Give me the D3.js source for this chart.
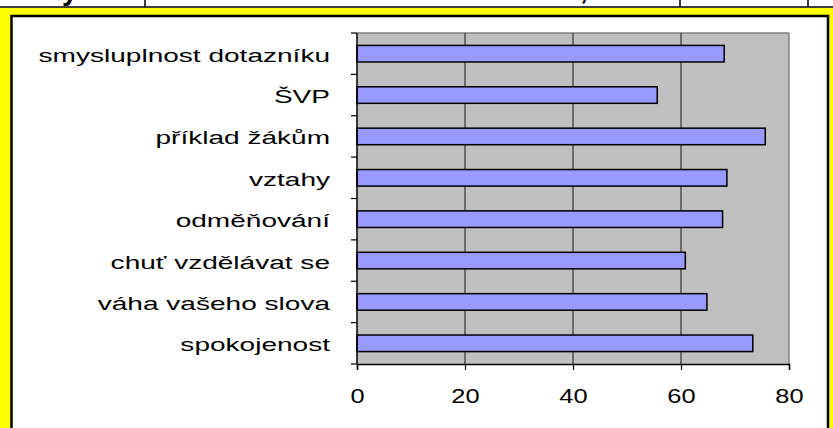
<!DOCTYPE html>
<html>
<head>
<meta charset="utf-8">
<script src="https://cdn.jsdelivr.net/npm/d3@7/dist/d3.min.js"></script>
<style>
  html, body { margin: 0; padding: 0; background: #fff; }
  svg { display: block; }
  text { font-family: "Liberation Sans", Arial, sans-serif; fill: #000; }
</style>
</head>
<body>
<script>

var w = 833, h = 428;

// chart data
var categories = ["smysluplnost dotazníku", "ŠVP", "příklad žákům", "vztahy",
                  "odměňování", "chuť vzdělávat se", "váha vašeho slova", "spokojenost"];
var values = [68.0, 55.6, 75.6, 68.5, 67.7, 60.8, 64.8, 73.3];
var xTicks = [0, 20, 40, 60, 80];

var data = categories.map(function(c, i){ return {cat: c, val: values[i]}; });

var svg = d3.select("body").append("svg").attr("width", w).attr("height", h);

// bits of the table above the chart (cut off by the picture edge)
svg.append("text").text("y")
  .attr("x", 62).attr("y", -0.5)
  .attr("font-size", "28px").attr("font-weight", "bold");
svg.append("text").text(",")
  .attr("x", 580).attr("y", -1)
  .attr("font-size", "28px").attr("font-weight", "bold");
svg.append("line").attr("x1", 0).attr("x2", w).attr("y1", 7).attr("y2", 7)
  .attr("stroke", "#000").attr("stroke-width", 1.5);
[145, 680, 808].forEach(function(x){
  svg.append("line").attr("x1", x).attr("x2", x).attr("y1", 0).attr("y2", 7)
    .attr("stroke", "#000").attr("stroke-width", 1.5);
});

// yellow frame + white chart area
svg.append("rect").attr("x", 0).attr("y", 8).attr("width", w).attr("height", h)
  .attr("fill", "#ffff00");
svg.append("rect").attr("x", 11.5).attr("y", 16).attr("width", 816.5).attr("height", h)
  .attr("fill", "#fff").attr("stroke", "#000").attr("stroke-width", 2.5);

// scales
var x = d3.scaleLinear().domain([0, 80]).range([357, 789]);
var y = d3.scaleBand().domain(categories).range([33, 364])
  .paddingInner(0.6).paddingOuter(0.3);
var step = y.step();

// plot area
svg.append("rect")
  .attr("x", x(0)).attr("y", 33)
  .attr("width", x(80) - x(0)).attr("height", 364 - 33)
  .attr("fill", "#c0c0c0");
svg.append("line").attr("x1", x(0)).attr("x2", x(80)).attr("y1", 33).attr("y2", 33)
  .attr("stroke", "#808080").attr("stroke-width", 1.5);
svg.append("line").attr("x1", x(80)).attr("x2", x(80)).attr("y1", 33).attr("y2", 364)
  .attr("stroke", "#808080").attr("stroke-width", 1.5);

// gridlines
svg.selectAll(".grid")
  .data(xTicks.filter(function(d){ return d > 0 && d < 80; }))
  .enter().append("line")
  .attr("class", "grid")
  .attr("x1", function(d){ return x(d); })
  .attr("x2", function(d){ return x(d); })
  .attr("y1", 33).attr("y2", 364)
  .attr("stroke", "#333").attr("stroke-width", 1.2);

// bars
svg.selectAll(".bar")
  .data(data)
  .enter().append("rect")
  .attr("class", "bar")
  .attr("x", x(0))
  .attr("y", function(d){ return y(d.cat); })
  .attr("width", function(d){ return x(d.val) - x(0); })
  .attr("height", y.bandwidth())
  .attr("fill", "#9999ff")
  .attr("stroke", "#000")
  .attr("stroke-width", 1.5);

// category boundary ticks on the left axis
svg.selectAll(".ctick")
  .data(d3.range(categories.length + 1))
  .enter().append("line")
  .attr("class", "ctick")
  .attr("x1", x(0) - 6).attr("x2", x(0))
  .attr("y1", function(i){ return 33 + i * step; })
  .attr("y2", function(i){ return 33 + i * step; })
  .attr("stroke", "#000").attr("stroke-width", 1.2);

// left axis: labels only
var yAxis = svg.append("g")
  .attr("transform", "translate(" + x(0) + ",0)")
  .call(d3.axisLeft(y).tickSize(0).tickPadding(0));
yAxis.select(".domain").remove();
yAxis.selectAll("text")
  .attr("x", 0).attr("y", 8).attr("dy", null)
  .attr("font-size", "18.7px")
  .attr("font-family", "Liberation Sans, Arial, sans-serif")
  .attr("transform", "translate(-27,0) scale(1.5,1)");

svg.append("line").attr("x1", x(0)).attr("x2", x(0)).attr("y1", 33).attr("y2", 364)
  .attr("stroke", "#000").attr("stroke-width", 1.5);

// bottom axis
var xAxis = svg.append("g")
  .attr("transform", "translate(0,364)")
  .call(d3.axisBottom(x).tickValues(xTicks).tickSize(6).tickFormat(d3.format("d")));
xAxis.select(".domain").attr("stroke-width", 1.5);
xAxis.selectAll(".tick line").attr("stroke-width", 1.2);
xAxis.selectAll("text")
  .attr("y", 39).attr("dy", null)
  .attr("font-size", "20px")
  .attr("font-family", "Liberation Sans, Arial, sans-serif")
  .attr("transform", "scale(1.27,1)");

</script>
</body>
</html>
